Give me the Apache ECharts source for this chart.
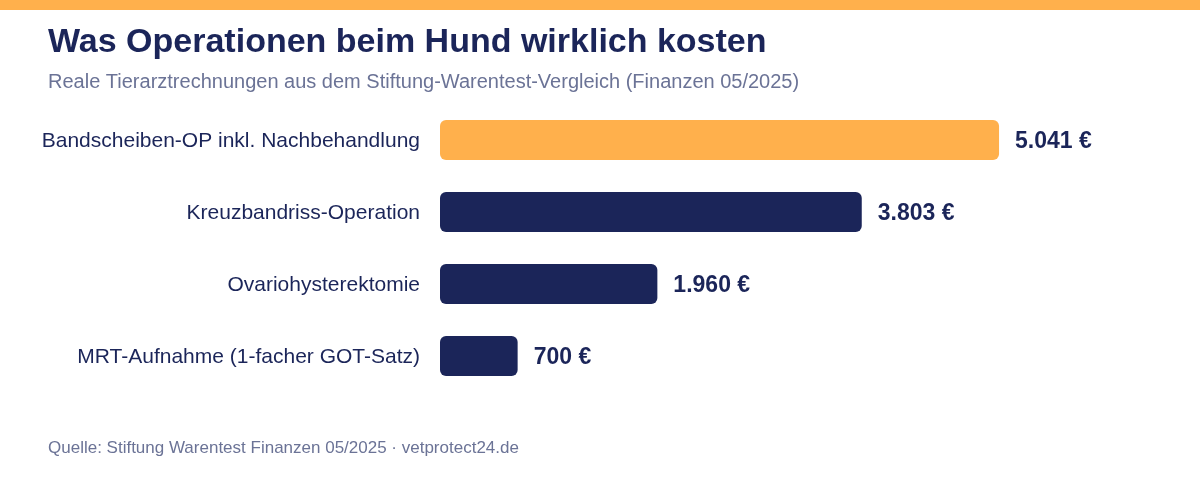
<!DOCTYPE html>
<html>
<head>
<meta charset="utf-8">
<script src="https://cdn.jsdelivr.net/npm/echarts@6/dist/echarts.min.js"></script>
<style>
  html, body { margin: 0; padding: 0; background: #fff; }
  #chart { width: 1200px; height: 478px; }
</style>
</head>
<body>
<div id="chart"></div>
<script>
// data, top to bottom
const categories = [
  'Bandscheiben-OP inkl. Nachbehandlung',
  'Kreuzbandriss-Operation',
  'Ovariohysterektomie',
  'MRT-Aufnahme (1-facher GOT-Satz)'
];
const costs = [5041, 3803, 1960, 700];
const highlightIndex = 0;

const navy = '#1b2559';
const orange = '#ffb04c';
const grey = '#6b7396';
const font = '"Liberation Sans", Arial, sans-serif';

const fmt = v => v.toLocaleString('de-DE') + ' €';

const chart = echarts.init(document.getElementById('chart'));

chart.setOption({
  backgroundColor: '#fff',
  animation: false,
  title: [
    {
      text: 'Was Operationen beim Hund wirklich kosten',
      left: 48, top: 26, padding: 0,
      textStyle: { fontFamily: font, fontSize: 34, fontWeight: 'bold', color: navy }
    },
    {
      text: 'Reale Tierarztrechnungen aus dem Stiftung-Warentest-Vergleich (Finanzen 05/2025)',
      left: 48, top: 72, padding: 0,
      textStyle: { fontFamily: font, fontSize: 20, fontWeight: 'normal', color: grey }
    },
    {
      text: 'Quelle: Stiftung Warentest Finanzen 05/2025 · vetprotect24.de',
      left: 48, top: 440, padding: 0,
      textStyle: { fontFamily: font, fontSize: 17, fontWeight: 'normal', color: grey }
    }
  ],
  graphic: [
    { type: 'rect', left: 0, top: 0, shape: { width: 1200, height: 10 }, style: { fill: orange } }
  ],
  grid: { left: 440, right: 94.6, top: 104, bottom: 86, containLabel: false },
  xAxis: {
    type: 'value', min: 0, max: 6000,
    show: false
  },
  yAxis: {
    type: 'category',
    data: categories,
    inverse: true,
    axisLine: { show: false },
    axisTick: { show: false },
    splitLine: { show: false },
    axisLabel: {
      margin: 20,
      formatter: '{c|{value}}',
      rich: { c: { fontFamily: font, fontSize: 21, color: navy, padding: [2, 0, 0, 0] } }
    }
  },
  series: [{
    type: 'bar',
    data: costs.map((v, i) => ({
      value: v,
      itemStyle: { color: i === highlightIndex ? orange : navy }
    })),
    barWidth: 40,
    itemStyle: { borderRadius: 6 },
    label: {
      show: true,
      position: 'right',
      distance: 16,
      offset: [0, 2],
      formatter: p => fmt(p.value),
      fontFamily: font, fontSize: 23, fontWeight: 'bold', color: navy
    }
  }]
});
</script>
</body>
</html>
